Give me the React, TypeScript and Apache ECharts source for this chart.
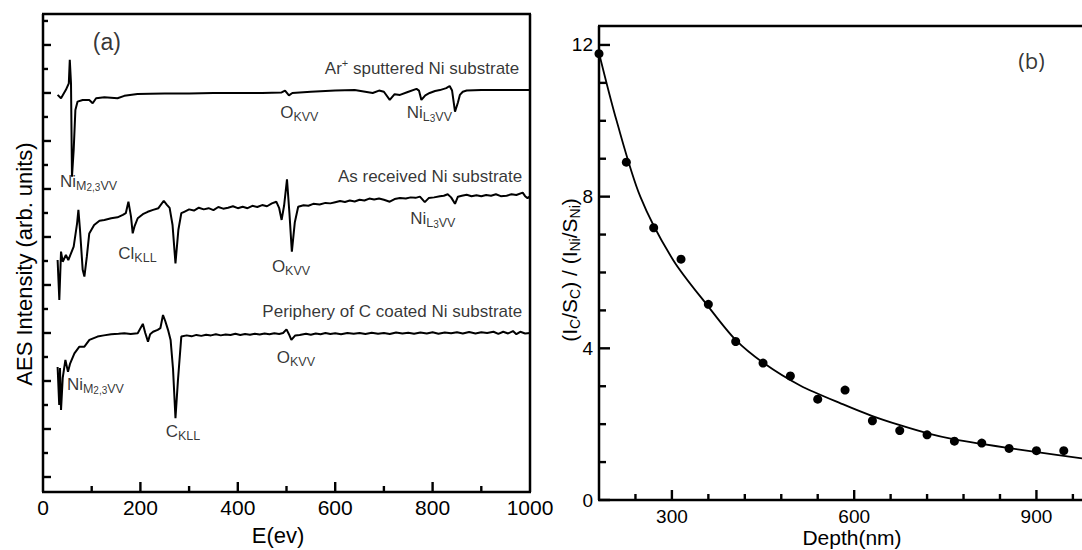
import React, { useEffect, useRef } from "react";
import * as echarts from "echarts";

const FONT = "'Liberation Sans', Arial, Helvetica, sans-serif";
const INK = "#000000";

// ---------- Panel (a): AES spectra, [energy (eV), intensity (arb., offset)] ----------
const arSputtered: number[][] = [
  [30, 15.92], [37, 15.78], [47, 16.13], [53, 16.4], [55, 17.38], [57.5, 16.4], [59.5, 12.51],
  [63, 13.63], [66.5, 15.29], [71, 15.64], [81.5, 15.71], [95, 15.71], [102, 15.57], [109, 15.78],
  [126, 15.82], [153, 15.78], [167, 15.88], [194, 15.96], [220, 15.97], [250, 15.98], [300, 15.98],
  [350, 16.0], [400, 16.0], [450, 16.0], [490, 16.02], [497, 16.1], [505, 15.9], [512, 16.0],
  [550, 16.05], [600, 16.1], [640, 16.12], [677, 16.0], [690, 16.1], [700, 16.05], [712, 15.71],
  [722, 15.95], [733, 15.92], [749, 16.04], [767, 16.17], [772, 16.1], [777, 15.71], [785, 15.9],
  [794, 16.0], [805, 16.08], [815, 16.12], [828, 16.2], [835, 16.29], [840, 16.1], [846, 15.22],
  [852, 15.6], [856, 15.92], [862, 16.05], [870, 16.1], [900, 16.12], [950, 16.12], [1000, 16.12],
];

const asReceived: number[][] = [
  [30, 9.04], [33.5, 7.38], [37, 9.39], [40.5, 8.97], [47, 9.25], [52, 9.04], [57.5, 9.32],
  [63, 9.6], [70, 10.57], [72.7, 11.13], [76, 10.29], [81.5, 8.63], [85, 8.35], [90, 9.18],
  [95, 10.15], [105, 10.5], [116, 10.68], [126, 10.71], [140, 10.78], [153, 10.82], [164, 10.92],
  [170, 10.99], [175.4, 11.47], [180.7, 10.85], [184.2, 10.15], [187.7, 10.43], [194.5, 10.78],
  [205, 10.95], [215, 11.05], [226, 11.13], [237, 11.2], [248, 11.51], [254, 11.35], [260, 11.21],
  [266, 10.5], [272, 8.9], [278, 10.3], [284, 10.99], [290, 11.05], [300, 11.15], [310, 11.1],
  [320, 11.22], [330, 11.15], [340, 11.2], [350, 11.12], [360, 11.25], [370, 11.18], [380, 11.22],
  [390, 11.28], [400, 11.2], [410, 11.26], [420, 11.2], [430, 11.3], [440, 11.25], [450, 11.33],
  [460, 11.28], [470, 11.4], [479, 11.47], [485, 11.2], [490, 10.71], [495, 11.3], [501, 12.4],
  [506, 11.0], [511, 9.39], [517, 10.6], [524, 11.26], [535, 11.32], [545, 11.3], [555, 11.38],
  [568, 11.35], [580, 11.42], [590, 11.4], [600, 11.45], [610, 11.5], [620, 11.46], [630, 11.52],
  [640, 11.48], [650, 11.55], [660, 11.52], [670, 11.6], [680, 11.56], [690, 11.6], [700, 11.55],
  [712, 11.47], [722, 11.58], [733, 11.62], [745, 11.6], [755, 11.65], [765, 11.63], [774, 11.68],
  [784, 11.45], [792, 11.62], [803, 11.65], [815, 11.7], [823, 11.72], [831, 11.78], [838, 11.65],
  [846, 11.38], [852, 11.68], [860, 11.72], [870, 11.76], [880, 11.7], [890, 11.74], [900, 11.7],
  [910, 11.75], [920, 11.72], [930, 11.78], [940, 11.7], [952, 11.72], [962, 11.78], [972, 11.75],
  [985, 11.85], [990, 11.7], [995, 11.62], [1000, 11.7],
];

const periphery: number[][] = [
  [30, 4.58], [33.3, 3.0], [34.9, 4.54], [37, 2.79], [40.5, 4.13], [46, 4.88], [51.3, 4.38],
  [55.4, 4.71], [64.5, 5.15], [74.7, 5.43], [85, 5.43], [95.3, 5.71], [112, 5.85], [125, 5.9],
  [140, 5.95], [155, 5.97], [167, 5.99], [180, 5.96], [194.5, 5.99], [205, 6.38], [210, 6.0],
  [215.6, 5.64], [220, 5.95], [226, 6.05], [235.5, 6.13], [241, 6.2], [246.4, 6.75], [251, 6.5],
  [256.7, 6.13], [262, 5.71], [267, 4.5], [272, 2.45], [277, 4.0], [284, 5.85], [295, 5.9],
  [305, 5.86], [315, 5.92], [325, 5.88], [335, 5.93], [345, 5.9], [355, 5.95], [365, 5.9],
  [375, 5.94], [385, 5.92], [395, 5.97], [405, 5.92], [415, 5.96], [425, 5.93], [435, 5.97],
  [445, 5.94], [455, 5.98], [465, 5.95], [475, 5.99], [485, 5.96], [493, 6.0], [500, 6.15],
  [505, 5.95], [510, 5.71], [518, 5.9], [527, 5.92], [540, 5.97], [550, 5.93], [560, 5.98],
  [570, 5.95], [580, 6.0], [590, 5.96], [600, 5.99], [612, 5.95], [625, 6.0], [638, 5.97],
  [650, 6.0], [662, 5.96], [675, 6.01], [688, 5.97], [700, 6.0], [712, 5.96], [725, 6.02],
  [738, 5.98], [750, 6.01], [762, 5.97], [775, 6.02], [788, 5.98], [800, 6.03], [812, 5.97],
  [825, 6.02], [838, 5.99], [850, 6.03], [862, 5.98], [875, 6.04], [888, 5.98], [900, 6.03],
  [912, 6.0], [925, 6.05], [935, 5.96], [945, 6.05], [955, 5.98], [965, 6.08], [972, 5.95],
  [980, 6.05], [990, 5.98], [1000, 6.0],
];

// ---------- Panel (b): ratio vs depth ----------
const depthMeasured: number[][] = [
  [180, 11.77], [225, 8.91], [270, 7.18], [315, 6.35], [360, 5.16], [405, 4.18], [450, 3.61],
  [495, 3.27], [540, 2.66], [585, 2.9], [630, 2.09], [675, 1.83], [720, 1.72], [765, 1.55],
  [810, 1.5], [855, 1.36], [900, 1.3], [945, 1.3],
];
const depthFit: number[][] = [
  [180, 11.79], [209, 10.0], [248, 8.0], [302, 6.33], [360, 5.1], [405, 4.22], [451, 3.61],
  [511, 3.02], [585, 2.5], [629, 2.22], [674, 1.98], [721, 1.76], [765, 1.6], [810, 1.48],
  [855, 1.37], [901, 1.26], [975, 1.1],
];

// ---------- axis ranges and tick positions ----------
const A_X_MIN = 0, A_X_MAX = 1000;
const A_Y_MIN = -0.625, A_Y_MAX = 19.29;
const B_X_MIN = 180, B_X_MAX = 975;
const B_Y_MIN = 0, B_Y_MAX = 12.5;

const energyMajor = [200, 400, 600, 800];
const energyMinor = [100, 300, 500, 700, 900];
const aMajorTicks = [0, 2, 4, 6, 8, 10, 12, 14, 16, 18];
const aMinorTicks = [1, 3, 5, 7, 9, 11, 13, 15, 17, 19];
const depthMajor = [300, 600, 900];
const depthMinor = [240, 360, 420, 480, 540, 660, 720, 780, 840, 960];
const ratioMajor = [0, 4, 8, 12];
const ratioMinor = [1, 2, 3, 5, 6, 7, 9, 10, 11];

// ---------- annotations (data coordinates) ----------
const annotationsA = [
  { at: [979, 17.04], text: "{m|Ar}{sup|+}{m| sputtered Ni substrate}", pos: "left" },
  { at: [486, 15.17], text: "{m|O}{s|KVV}", pos: "right" },
  { at: [746, 15.17], text: "{m|Ni}{s|L}{ss|3}{s|VV}", pos: "right" },
  { at: [34, 12.3], text: "{m|Ni}{s|M}{ss|2,3}{s|VV}", pos: "right" },
  { at: [985, 12.51], text: "{m|As received Ni substrate}", pos: "left" },
  { at: [153.6, 9.33], text: "{m|Cl}{s|KLL}", pos: "right" },
  { at: [469, 8.76], text: "{m|O}{s|KVV}", pos: "right" },
  { at: [753, 10.75], text: "{m|Ni}{s|L}{ss|3}{s|VV}", pos: "right" },
  { at: [985, 6.89], text: "{m|Periphery of C coated Ni substrate}", pos: "left" },
  { at: [48, 3.86], text: "{m|Ni}{s|M}{ss|2,3}{s|VV}", pos: "right" },
  { at: [251, 1.89], text: "{m|C}{s|KLL}", pos: "right" },
  { at: [479, 4.99], text: "{m|O}{s|KVV}", pos: "right" },
  { at: [131, 18.14], text: "{big|(a)}", pos: "inside" },
];
const annotationsB = [{ at: [892, 11.61], text: "{bigb|(b)}", pos: "inside" }];

const RICH: any = {
  m: { fontSize: 17, lineHeight: 22, fontFamily: FONT, color: INK },
  s: { fontSize: 12.5, lineHeight: 12, fontFamily: FONT, color: INK, verticalAlign: "bottom" },
  ss: { fontSize: 10, lineHeight: 8, fontFamily: FONT, color: INK, verticalAlign: "bottom" },
  sup: { fontSize: 11, lineHeight: 12, fontFamily: FONT, color: INK, verticalAlign: "top" },
  big: { fontSize: 23, lineHeight: 26, fontFamily: FONT, color: INK },
  bigb: { fontSize: 22, lineHeight: 26, fontFamily: "'Open Sans', 'DejaVu Sans', sans-serif", color: INK },
};

function labelItems(list: { at: number[]; text: string; pos: string }[]) {
  return list.map((a) => ({
    value: a.at,
    label: { formatter: a.text, position: a.pos, distance: 0 },
  }));
}

const hiddenAxis = (gridIndex: number, position: string, min: number, max: number) => ({
  gridIndex, type: "value", position, min, max,
  axisLine: { show: false },
  axisTick: { show: false },
  axisLabel: { show: false },
  splitLine: { show: false },
});

const titleGraphics: any[] = [
  {
    type: "text", x: 24, y: 264, rotation: Math.PI / 2, silent: true,
    style: { text: "AES Intensity (arb. units)", font: `22px ${FONT}`, fill: INK, textAlign: "center", textVerticalAlign: "middle" },
  },
  {
    type: "text", x: 278, y: 535, silent: true,
    style: { text: "E(ev)", font: `22px ${FONT}`, fill: INK, textAlign: "center", textVerticalAlign: "middle" },
  },
  {
    type: "text", x: 852, y: 537, silent: true,
    style: { text: "Depth(nm)", font: `21px ${FONT}`, fill: INK, textAlign: "center", textVerticalAlign: "middle" },
  },
  {
    type: "text", x: 569, y: 270, rotation: Math.PI / 2, silent: true,
    style: {
      text: "{m|(I}{s|C}{m|/S}{s|C}{m|) / (I}{s|Ni}{m|/S}{s|Ni}{m|)}",
      fill: INK, textAlign: "center", textVerticalAlign: "middle",
      rich: {
        m: { fontSize: 21, lineHeight: 26, fontFamily: FONT, fill: INK },
        s: { fontSize: 14, lineHeight: 14, fontFamily: FONT, fill: INK, verticalAlign: "bottom" },
      },
    },
  },
];

export default function App() {
  const ref = useRef<HTMLDivElement>(null);

  useEffect(() => {
    if (!ref.current) return;
    const chart = echarts.init(ref.current, undefined, { renderer: "svg" });

    const lineSeries = (data: number[][]) => ({
      type: "line", xAxisIndex: 0, yAxisIndex: 0, data,
      showSymbol: false, symbol: "none", lineStyle: { color: INK, width: 2 }, silent: true,
    });

    const option: any = {
      animation: false,
      backgroundColor: "#ffffff",
      grid: [
        { left: 43, top: 14, width: 487, height: 478, outerBoundsMode: "none", containLabel: false },
        { left: 599, top: 26, width: 483, height: 474, outerBoundsMode: "none", containLabel: false },
      ],
      xAxis: [
        {
          ...hiddenAxis(0, "bottom", A_X_MIN, A_X_MAX),
          interval: 200,
          axisLabel: { show: true, fontSize: 21, fontFamily: FONT, color: INK, margin: 5, formatter: (v: number) => String(v) },
        },
        {
          ...hiddenAxis(1, "bottom", B_X_MIN, B_X_MAX),
          axisLabel: { show: true, fontSize: 19, fontFamily: FONT, color: INK, margin: 7, customValues: depthMajor, formatter: (v: number) => String(v) },
        },
      ],
      yAxis: [
        hiddenAxis(0, "left", A_Y_MIN, A_Y_MAX),
        {
          ...hiddenAxis(1, "left", B_Y_MIN, B_Y_MAX),
          axisLabel: { show: true, fontSize: 19, fontFamily: FONT, color: INK, margin: 6, customValues: ratioMajor },
        },
      ],
      series: [
        lineSeries(arSputtered),
        lineSeries(asReceived),
        lineSeries(periphery),
        {
          type: "scatter", xAxisIndex: 0, yAxisIndex: 0, symbolSize: 1, silent: true,
          itemStyle: { color: "transparent" },
          label: { show: true, color: INK, fontFamily: FONT, fontSize: 17, rich: RICH },
          data: labelItems(annotationsA),
        },
        {
          type: "line", xAxisIndex: 1, yAxisIndex: 1, data: depthFit, smooth: 0.3,
          showSymbol: false, symbol: "none", lineStyle: { color: INK, width: 1.8 }, silent: true,
        },
        {
          type: "scatter", xAxisIndex: 1, yAxisIndex: 1, data: depthMeasured, symbol: "circle",
          symbolSize: 9, itemStyle: { color: INK, opacity: 1 }, silent: true,
        },
        {
          type: "scatter", xAxisIndex: 1, yAxisIndex: 1, symbolSize: 1, silent: true,
          itemStyle: { color: "transparent" },
          label: { show: true, color: INK, fontFamily: FONT, fontSize: 22, rich: RICH },
          data: labelItems(annotationsB),
        },
      ],
    };

    chart.setOption(option);

    // Frame and tick marks, positioned through each panel's scales.
    const toPx = (seriesIndex: number, x: number, y: number): number[] =>
      chart.convertToPixel({ seriesIndex }, [x, y]) as number[];
    const seg = (x1: number, y1: number, x2: number, y2: number, w = 2.5) => ({
      type: "line", silent: true, z: 100,
      shape: { x1, y1, x2, y2 },
      style: { stroke: INK, lineWidth: w, fill: null },
    });
    const els: any[] = [...titleGraphics];
    const TW = 2.4;

    // panel (a)
    const a0 = toPx(0, A_X_MIN, A_Y_MIN);
    const a1 = toPx(0, A_X_MAX, A_Y_MAX);
    els.push(seg(a0[0] - 1, a0[1], a1[0] + 1, a0[1]));
    els.push(seg(a0[0] - 1, a1[1], a1[0] + 1, a1[1]));
    els.push(seg(a0[0], a0[1], a0[0], a1[1]));
    els.push(seg(a1[0], a0[1], a1[0], a1[1]));
    energyMajor.forEach((v) => { const p = toPx(0, v, A_Y_MIN); els.push(seg(p[0], p[1], p[0], p[1] - 10, TW)); });
    energyMinor.forEach((v) => { const p = toPx(0, v, A_Y_MIN); els.push(seg(p[0], p[1], p[0], p[1] - 6, TW)); });
    aMajorTicks.forEach((v) => { const p = toPx(0, A_X_MIN, v); els.push(seg(p[0], p[1], p[0] + 8, p[1], TW)); });
    aMinorTicks.forEach((v) => { const p = toPx(0, A_X_MIN, v); els.push(seg(p[0], p[1], p[0] + 5, p[1], TW)); });

    // panel (b)
    const b0 = toPx(4, B_X_MIN, B_Y_MIN);
    const b1 = toPx(4, B_X_MAX, B_Y_MAX);
    els.push(seg(b0[0] - 1, b0[1], b1[0] + 2, b0[1]));
    els.push(seg(b0[0] - 1, b1[1], b1[0] + 2, b1[1]));
    els.push(seg(b0[0], b0[1], b0[0], b1[1]));
    depthMajor.forEach((v) => { const p = toPx(4, v, B_Y_MIN); els.push(seg(p[0], p[1], p[0], p[1] - 10, TW)); });
    depthMinor.forEach((v) => { const p = toPx(4, v, B_Y_MIN); els.push(seg(p[0], p[1], p[0], p[1] - 6, TW)); });
    ratioMajor.forEach((v) => { const p = toPx(4, B_X_MIN, v); els.push(seg(p[0], p[1], p[0] + 11, p[1], TW)); });
    ratioMinor.forEach((v) => { const p = toPx(4, B_X_MIN, v); els.push(seg(p[0], p[1], p[0] + 7, p[1], TW)); });

    chart.setOption({ graphic: els });
    return () => chart.dispose();
  }, []);

  return (
    <div
      ref={ref}
      style={{ position: "absolute", left: 0, top: 0, width: 1082, height: 550, background: "#fff" }}
    />
  );
}
